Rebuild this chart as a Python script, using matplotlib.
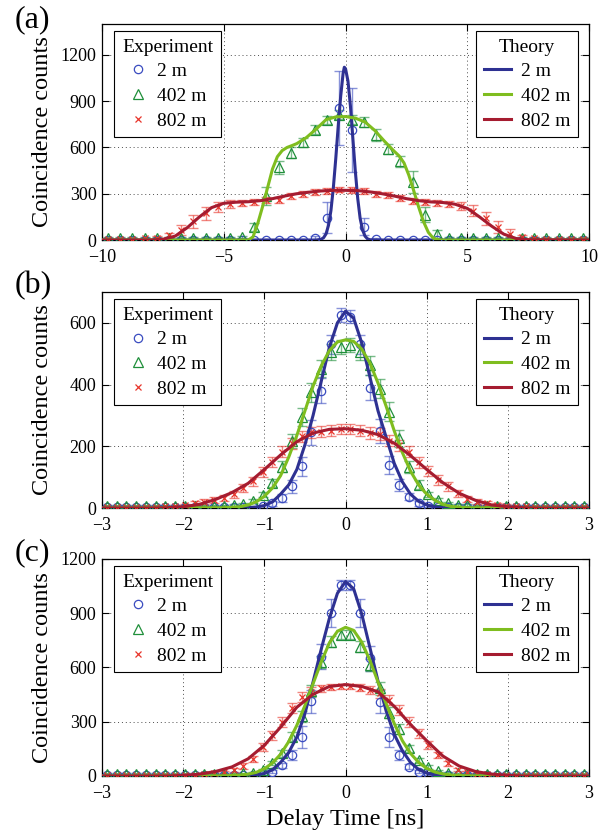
import numpy as np
import matplotlib
matplotlib.use("Agg")
import matplotlib.pyplot as plt

plt.rcParams['font.family'] = ['Liberation Serif', 'DejaVu Serif']
plt.rcParams['mathtext.fontset'] = 'stix'

# ---------------- panel (a): delay -10..10 ns ----------------
x_a = [-9.75, -9.25, -8.75, -8.25, -7.75, -7.25, -6.75, -6.25, -5.75, -5.25,
       -4.75, -4.25, -3.75, -3.25, -2.75, -2.25, -1.75, -1.25, -0.75, -0.25,
       0.25, 0.75, 1.25, 1.75, 2.25, 2.75, 3.25, 3.75, 4.25, 4.75,
       5.25, 5.75, 6.25, 6.75, 7.25, 7.75, 8.25, 8.75, 9.25, 9.75]
blue_a = [2, 2, 2, 2, 2, 2, 2, 2, 2, 2,
          2, 2, 2, 2, 2, 2, 2, 10, 145, 857,
          714, 86, 5, 2, 2, 2, 2, 2, 2, 2,
          2, 2, 2, 2, 2, 2, 2, 2, 2, 2]
blue_a_err = [2, 2, 2, 2, 2, 2, 2, 2, 2, 2,
              2, 2, 2, 2, 2, 2, 2, 15, 100, 240,
              270, 55, 10, 2, 2, 2, 2, 2, 2, 2,
              2, 2, 2, 2, 2, 2, 2, 2, 2, 2]
green_a = [15, 15, 15, 15, 15, 15, 15, 15, 15, 15,
           15, 18, 86, 285, 470, 565, 632, 715, 779, 812,
           780, 765, 682, 590, 510, 375, 165, 40, 15, 15,
           15, 15, 15, 15, 15, 15, 15, 15, 15, 15]
green_a_err = [5, 5, 5, 5, 5, 5, 5, 5, 5, 5,
               5, 5, 25, 60, 45, 35, 30, 30, 25, 30,
               30, 30, 40, 35, 35, 70, 50, 25, 5, 5,
               5, 5, 5, 5, 5, 5, 5, 5, 5, 5]
red_a = [8, 8, 8, 10, 15, 32, 65, 120, 172, 214,
         232, 238, 245, 262, 262, 285, 296, 310, 318, 326,
         324, 318, 300, 290, 272, 252, 245, 238, 236, 222,
         190, 140, 85, 40, 18, 10, 8, 8, 8, 8]
red_a_err = [4, 4, 4, 5, 8, 15, 30, 40, 40, 30,
             25, 20, 20, 20, 20, 20, 20, 18, 18, 18,
             18, 18, 18, 20, 20, 20, 20, 20, 20, 25,
             35, 40, 40, 30, 15, 8, 5, 4, 4, 4]

tx_blue_a = [-10, -1.2, -1.0, -0.9, -0.8, -0.7, -0.6, -0.5, -0.4, -0.3, -0.2, -0.1, -0.05,
             0.0, 0.1, 0.2, 0.3, 0.4, 0.5, 0.6, 0.7, 0.8, 0.9, 1.0, 1.2, 10]
ty_blue_a = [0, 0, 5, 15, 40, 95, 190, 340, 530, 740, 930, 1080, 1120,
             1110, 1030, 870, 660, 450, 270, 140, 65, 25, 8, 2, 0, 0]
tx_green_a = [-10, -4.0, -3.8, -3.6, -3.4, -3.2, -3.0, -2.8, -2.6, -2.4, -2.2, -2.0, -1.6,
              -1.2, -0.8, -0.4, 0.0, 0.4, 0.8, 1.2, 1.6, 2.0, 2.2, 2.4, 2.6, 2.8,
              3.0, 3.2, 3.4, 3.6, 3.8, 4.0, 10]
ty_green_a = [0, 0, 20, 110, 220, 340, 460, 540, 580, 600, 612, 625, 665,
              720, 780, 798, 800, 790, 765, 710, 640, 575, 545, 500, 420, 320,
              215, 120, 50, 12, 2, 0, 0]
tx_red_a = [-10, -8.0, -7.5, -7.0, -6.5, -6.0, -5.5, -5.0, -4.5, -4.0, -3.5, -3.0, -2.5,
            -2.0, -1.5, -1.0, -0.5, 0.0, 0.5, 1.0, 1.5, 2.0, 2.5, 3.0, 3.5, 4.0,
            4.5, 5.0, 5.5, 6.0, 6.5, 7.0, 7.5, 10]
ty_red_a = [0, 0, 5, 25, 80, 150, 210, 238, 245, 248, 255, 268, 285,
            300, 310, 318, 322, 322, 320, 312, 300, 285, 268, 255, 247, 243,
            232, 205, 150, 90, 38, 10, 2, 0]

# ---------------- panels (b), (c): delay -3..3 ns ----------------
x_bc = [-2.94, -2.82, -2.70, -2.58, -2.46, -2.34, -2.22, -2.10, -1.98, -1.86,
        -1.74, -1.62, -1.50, -1.38, -1.26, -1.14, -1.02, -0.90, -0.78, -0.66,
        -0.54, -0.42, -0.30, -0.18, -0.06, 0.06, 0.18, 0.30, 0.42, 0.54,
        0.66, 0.78, 0.90, 1.02, 1.14, 1.26, 1.38, 1.50, 1.62, 1.74,
        1.86, 1.98, 2.10, 2.22, 2.34, 2.46, 2.58, 2.70, 2.82, 2.94]

blue_b = [2, 2, 2, 2, 2, 2, 2, 2, 2, 2,
          2, 2, 2, 2, 2, 3, 6, 15, 32, 70,
          135, 245, 380, 530, 625, 620, 530, 390, 250, 140,
          75, 37, 16, 7, 3, 2, 2, 2, 2, 2,
          2, 2, 2, 2, 2, 2, 2, 2, 2, 2]
blue_b_err = [2, 2, 2, 2, 2, 2, 2, 2, 2, 2,
              2, 2, 2, 2, 2, 3, 5, 8, 12, 20,
              30, 40, 40, 32, 22, 22, 30, 40, 40, 30,
              20, 12, 8, 5, 3, 2, 2, 2, 2, 2,
              2, 2, 2, 2, 2, 2, 2, 2, 2, 2]
green_b = [8, 8, 8, 8, 8, 8, 8, 8, 8, 8,
           8, 8, 8, 9, 13, 22, 43, 81, 134, 218,
           295, 375, 452, 505, 522, 528, 505, 462, 387, 312,
           226, 134, 76, 44, 27, 17, 11, 9, 8, 8,
           8, 8, 8, 8, 8, 8, 8, 8, 8, 8]
green_b_err = [3, 3, 3, 3, 3, 3, 3, 3, 3, 3,
               3, 3, 3, 3, 4, 6, 8, 12, 18, 22,
               28, 30, 28, 25, 22, 22, 25, 30, 32, 30,
               28, 20, 14, 8, 6, 4, 3, 3, 3, 3,
               3, 3, 3, 3, 3, 3, 3, 3, 3, 3]
red_b = [4, 4, 4, 4, 4, 4, 5, 6, 9, 15,
         20, 26, 32, 44, 65, 86, 118, 150, 183, 210,
         232, 245, 247, 250, 256, 256, 250, 243, 240, 218,
         204, 183, 148, 120, 91, 70, 48, 28, 21, 16,
         11, 8, 6, 5, 4, 4, 4, 4, 4, 4]
red_b_err = [2, 2, 2, 2, 2, 2, 3, 4, 5, 7,
             8, 10, 10, 12, 14, 15, 16, 17, 18, 18,
             18, 18, 18, 18, 16, 16, 18, 18, 18, 18,
             18, 18, 17, 16, 15, 14, 12, 10, 8, 7,
             5, 4, 3, 3, 2, 2, 2, 2, 2, 2]

tx_blue_b = [-3, -1.4, -1.2, -1.1, -1.0, -0.9, -0.8, -0.7, -0.6, -0.5, -0.4, -0.3, -0.2, -0.1,
             0.0, 0.1, 0.2, 0.3, 0.4, 0.5, 0.6, 0.7, 0.8, 0.9, 1.0, 1.1, 1.2, 1.4, 3]
ty_blue_b = [0, 0, 1, 3, 8, 20, 45, 75, 125, 205, 300, 410, 520, 600,
             638, 615, 535, 425, 315, 230, 145, 85, 45, 22, 10, 4, 1, 0, 0]
tx_green_b = [-3, -1.5, -1.3, -1.2, -1.1, -1.0, -0.9, -0.8, -0.7, -0.6, -0.5, -0.4, -0.3, -0.2,
              -0.1, 0.0, 0.1, 0.2, 0.3, 0.4, 0.5, 0.6, 0.7, 0.8, 0.9, 1.0, 1.1, 1.2, 1.3, 1.5, 3]
ty_green_b = [0, 1, 4, 10, 20, 38, 65, 105, 165, 235, 315, 395, 460, 510,
              538, 545, 540, 515, 470, 405, 330, 250, 180, 120, 75, 45, 25, 12, 5, 1, 0]
tx_red_b = [-3, -2.4, -2.2, -2.0, -1.8, -1.6, -1.4, -1.2, -1.0, -0.8, -0.6, -0.4, -0.2,
            0.0, 0.2, 0.4, 0.6, 0.8, 1.0, 1.2, 1.4, 1.6, 1.8, 2.0, 2.2, 2.4, 3]
ty_red_b = [0, 0, 1, 4, 12, 28, 50, 80, 125, 172, 215, 243, 255,
            257, 252, 238, 210, 170, 125, 82, 48, 25, 10, 4, 1, 0, 0]

blue_c = [3, 3, 3, 3, 3, 3, 3, 3, 3, 3,
          3, 3, 3, 3, 3, 5, 10, 24, 58, 116,
          217, 413, 660, 900, 1056, 1056, 900, 651, 411, 217,
          116, 51, 24, 10, 5, 3, 3, 3, 3, 3,
          3, 3, 3, 3, 3, 3, 3, 3, 3, 3]
blue_c_err = [3, 3, 3, 3, 3, 3, 3, 3, 3, 3,
              3, 3, 3, 3, 3, 4, 6, 10, 15, 30,
              60, 65, 70, 78, 30, 30, 78, 70, 65, 55,
              30, 15, 10, 6, 4, 3, 3, 3, 3, 3,
              3, 3, 3, 3, 3, 3, 3, 3, 3, 3]
green_c = [12, 12, 12, 12, 12, 12, 12, 12, 12, 12,
           12, 12, 12, 12, 14, 18, 33, 72, 125, 217,
           330, 470, 630, 743, 780, 780, 715, 614, 485, 350,
           260, 153, 88, 51, 28, 18, 14, 12, 12, 12,
           12, 12, 12, 12, 12, 12, 12, 12, 12, 12]
green_c_err = [4, 4, 4, 4, 4, 4, 4, 4, 4, 4,
               4, 4, 4, 4, 5, 6, 8, 12, 18, 25,
               30, 35, 35, 30, 25, 25, 30, 35, 35, 30,
               28, 20, 14, 10, 6, 5, 4, 4, 4, 4,
               4, 4, 4, 4, 4, 4, 4, 4, 4, 4]
red_c = [4, 4, 4, 4, 4, 4, 4, 5, 6, 8,
         10, 14, 20, 33, 55, 93, 160, 225, 298, 374,
         435, 466, 485, 492, 495, 495, 488, 476, 457, 420,
         365, 300, 236, 171, 116, 70, 35, 20, 13, 9,
         7, 6, 5, 4, 4, 4, 4, 4, 4, 4]
red_c_err = [2, 2, 2, 2, 2, 2, 2, 3, 3, 4,
             5, 6, 8, 10, 14, 18, 22, 25, 28, 28,
             28, 25, 20, 18, 16, 16, 18, 20, 25, 28,
             28, 28, 25, 22, 18, 14, 10, 8, 6, 5,
             4, 3, 3, 2, 2, 2, 2, 2, 2, 2]

tx_blue_c = [-3, -1.4, -1.2, -1.1, -1.0, -0.9, -0.8, -0.7, -0.6, -0.5, -0.4, -0.3, -0.2, -0.1,
             0.0, 0.1, 0.2, 0.3, 0.4, 0.5, 0.6, 0.7, 0.8, 0.9, 1.0, 1.1, 1.2, 1.4, 3]
ty_blue_c = [0, 0, 2, 6, 14, 34, 75, 130, 215, 345, 520, 700, 870, 1010,
             1075, 1035, 895, 710, 525, 360, 230, 140, 75, 36, 16, 7, 2, 0, 0]
tx_green_c = [-3, -1.5, -1.3, -1.2, -1.1, -1.0, -0.9, -0.8, -0.7, -0.6, -0.5, -0.4, -0.3, -0.2,
              -0.1, 0.0, 0.1, 0.2, 0.3, 0.4, 0.5, 0.6, 0.7, 0.8, 0.9, 1.0, 1.1, 1.2, 1.3, 1.5, 3]
ty_green_c = [0, 1, 5, 10, 20, 40, 72, 120, 190, 280, 390, 510, 630, 735,
              800, 822, 805, 740, 640, 520, 400, 290, 195, 125, 75, 42, 22, 11, 5, 1, 0]
tx_red_c = [-3, -2.2, -2.0, -1.8, -1.6, -1.4, -1.2, -1.0, -0.8, -0.6, -0.4, -0.2,
            0.0, 0.2, 0.4, 0.6, 0.8, 1.0, 1.2, 1.4, 1.6, 1.8, 2.0, 2.2, 3]
ty_red_c = [0, 0, 3, 10, 25, 50, 95, 170, 270, 380, 452, 495,
            505, 495, 465, 385, 285, 195, 110, 55, 25, 10, 3, 0, 0]

labels = ['2 m', '402 m', '802 m']
exp_colors = ['#3a4cc0', '#1f8f3a', '#e8352b']
exp_markers = ['o', '^', 'x']
exp_ms = [6.0, 6.5, 4.5]
theory_colors = ['#2e3192', '#7fbd1f', '#a51c30']


def draw_panel(ax, x, exp, exp_err, theory, xlim, ylim, xticks, yticks):
    handles_exp = []
    for y, e, c, m, ms, lab in zip(exp, exp_err, exp_colors, exp_markers, exp_ms, labels):
        ax.errorbar(x, y, yerr=e, fmt='none', ecolor=c, elinewidth=1.0,
                    capsize=3.8, capthick=1.0, alpha=0.6, zorder=2)
        h, = ax.plot(x, y, ls='none', marker=m, ms=ms, mfc='none', mec=c,
                     mew=0.9, label=lab, zorder=3)
        handles_exp.append(h)
    handles_th = []
    for (tx, ty), c, lab in zip(theory, theory_colors, labels):
        h, = ax.plot(tx, ty, color=c, lw=2.2, label=lab, zorder=4)
        handles_th.append(h)

    ax.set_xlim(*xlim)
    ax.set_ylim(*ylim)
    ax.set_xticks(xticks)
    ax.set_yticks(yticks)
    ax.tick_params(direction='in', top=True, right=True, length=5, width=0.8,
                   labelsize=13)
    ax.tick_params(axis='y', pad=4)
    ax.tick_params(axis='x', pad=6.8)
    ax.grid(True, ls=(0, (1, 3)), color='0.3', lw=0.7)
    for sp in ax.spines.values():
        sp.set_linewidth(0.9)

    leg_kw = dict(fontsize=14, title_fontsize=14, frameon=True, fancybox=False,
                  edgecolor='black', framealpha=1, borderaxespad=0,
                  labelspacing=0.36, borderpad=0.4)
    leg1 = ax.legend(handles_exp, labels, title='Experiment', loc='upper left',
                     bbox_to_anchor=(0.025, 0.968), handlelength=1.0,
                     handletextpad=0.5, **leg_kw)
    leg1.get_frame().set_linewidth(0.8)
    ax.add_artist(leg1)
    leg2 = ax.legend(handles_th, labels, title='Theory', loc='upper right',
                     bbox_to_anchor=(0.977, 0.968), handlelength=1.4,
                     handletextpad=0.5, **leg_kw)
    leg2.get_frame().set_linewidth(0.8)

    ax.set_ylabel('Coincidence counts', fontsize=17.5)
    ax.yaxis.set_label_coords(-0.10, 0.5)


fig = plt.figure(figsize=(6.12, 8.36), dpi=100)
ax_a = fig.add_axes([0.1667, 0.7129, 0.7958, 0.2584])
ax_b = fig.add_axes([0.1667, 0.3923, 0.7958, 0.2584])
ax_c = fig.add_axes([0.1667, 0.0718, 0.7958, 0.2596])

draw_panel(ax_a, x_a, [blue_a, green_a, red_a], [blue_a_err, green_a_err, red_a_err],
           [(tx_blue_a, ty_blue_a), (tx_green_a, ty_green_a), (tx_red_a, ty_red_a)],
           (-10, 10), (0, 1400), [-10, -5, 0, 5, 10], [0, 300, 600, 900, 1200])
draw_panel(ax_b, x_bc, [blue_b, green_b, red_b], [blue_b_err, green_b_err, red_b_err],
           [(tx_blue_b, ty_blue_b), (tx_green_b, ty_green_b), (tx_red_b, ty_red_b)],
           (-3, 3), (0, 700), [-3, -2, -1, 0, 1, 2, 3], [0, 200, 400, 600])
draw_panel(ax_c, x_bc, [blue_c, green_c, red_c], [blue_c_err, green_c_err, red_c_err],
           [(tx_blue_c, ty_blue_c), (tx_green_c, ty_green_c), (tx_red_c, ty_red_c)],
           (-3, 3), (0, 1200), [-3, -2, -1, 0, 1, 2, 3], [0, 300, 600, 900, 1200])

ax_c.set_xlabel('Delay Time [ns]', fontsize=17.5)
ax_c.xaxis.set_label_coords(0.5, -0.15)

fig.text(15 / 612, 1 - 27 / 836, '(a)', fontsize=23, va='baseline')
fig.text(15 / 612, 1 - 293 / 836, '(b)', fontsize=23, va='baseline')
fig.text(15 / 612, 1 - 560 / 836, '(c)', fontsize=23, va='baseline')

fig.savefig('out.png', dpi=100)
